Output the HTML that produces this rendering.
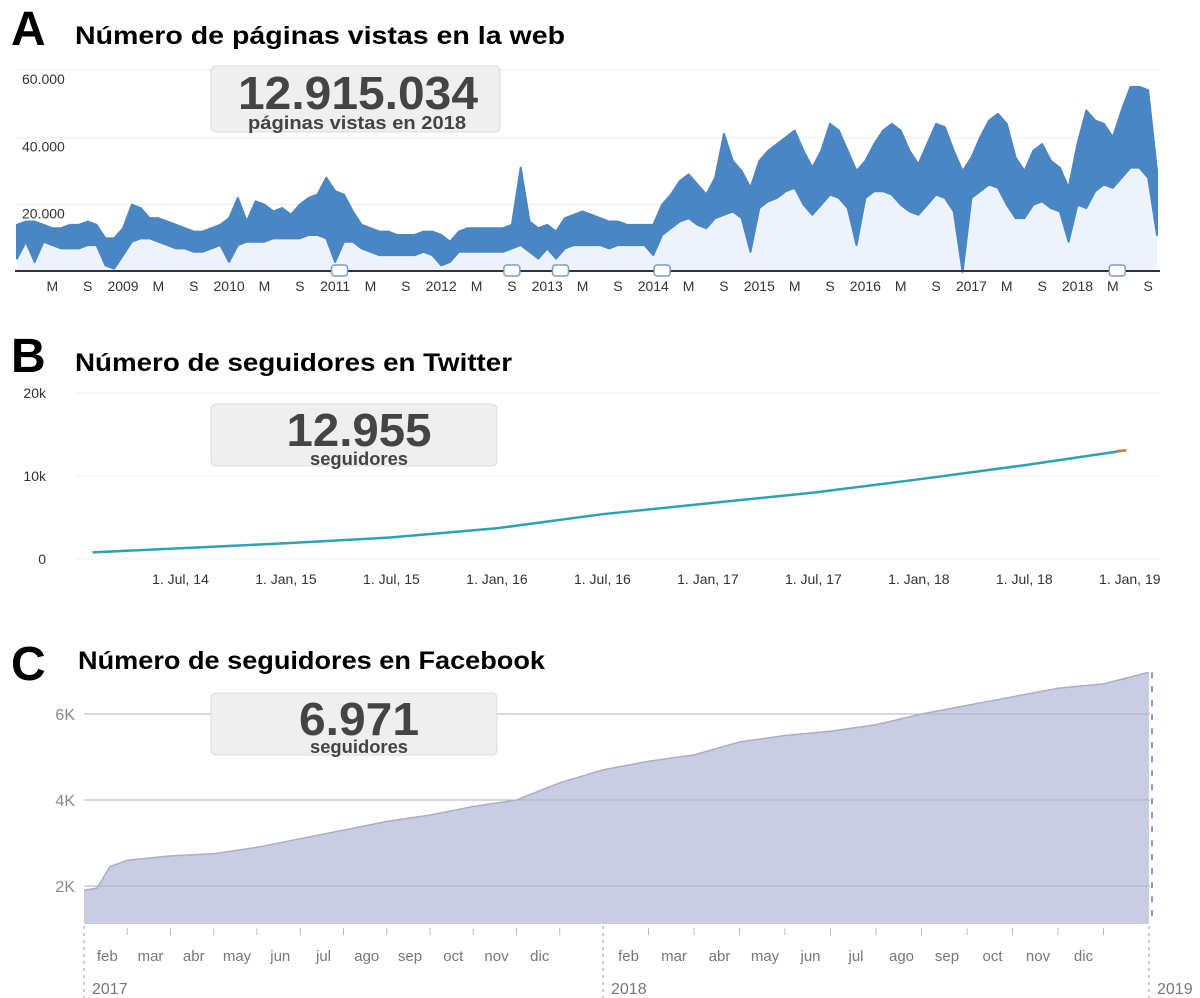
<!DOCTYPE html>
<html><head><meta charset="utf-8"><style>
html,body{margin:0;padding:0;background:#fff;}
svg{display:block;font-family:"Liberation Sans",Arial,sans-serif;}
.t{font-weight:bold;fill:#000;}
.ax{fill:#333;font-size:14px;}
.box{fill:#efefef;stroke:#dcdcdc;stroke-width:1;}
.big{font-weight:bold;fill:#444;text-anchor:middle;}
.sub{font-weight:bold;fill:#444;text-anchor:middle;}
</style></head><body>
<svg id="s" width="1200" height="998" viewBox="0 0 1200 998">
<g>
<text x="11" y="45" class="t" font-size="48">A</text>
<text x="75" y="44" class="t" font-size="25" textLength="490" lengthAdjust="spacingAndGlyphs">Número de páginas vistas en la web</text>
<g id="gA"></g>
<rect x="211" y="66" width="289" height="66" rx="5" class="box"/>
<text x="358" y="109" class="big" font-size="46" textLength="240" lengthAdjust="spacingAndGlyphs">12.915.034</text>
<text x="357" y="129" class="sub" font-size="18" textLength="218" lengthAdjust="spacingAndGlyphs">páginas vistas en 2018</text>
</g>
<g>
<text x="11" y="372" class="t" font-size="48">B</text>
<text x="75" y="371" class="t" font-size="25" textLength="437" lengthAdjust="spacingAndGlyphs">Número de seguidores en Twitter</text>
<g id="gB"></g>
<rect x="211" y="404" width="286" height="62" rx="5" class="box"/>
<text x="359" y="446" class="big" font-size="46" textLength="145" lengthAdjust="spacingAndGlyphs">12.955</text>
<text x="359" y="465" class="sub" font-size="18" textLength="98" lengthAdjust="spacingAndGlyphs">seguidores</text>
</g>
<g>
<text x="11" y="680" class="t" font-size="48">C</text>
<text x="78" y="669" class="t" font-size="25" textLength="467" lengthAdjust="spacingAndGlyphs">Número de seguidores en Facebook</text>
<g id="gC"></g>
<rect x="211" y="693" width="286" height="62" rx="5" class="box"/>
<text x="359" y="735" class="big" font-size="46" textLength="120" lengthAdjust="spacingAndGlyphs">6.971</text>
<text x="359" y="753" class="sub" font-size="18" textLength="98" lengthAdjust="spacingAndGlyphs">seguidores</text>
</g>
</svg>
<script>
// ---------- Panel A data (thousands, monthly Jan 2008 - Oct 2018)
const aHi = [14,15,15,14,13,13,14,14,15,14,10,10, 13,20,19,16,16,15,14,13,12,12,13,14, 16,22,15,21,20,18,19,17,20,22,23,28,
 24,23,18,14,13,12,12,11,11,11,12,12, 11,9,12,13,13,13,13,13,14,31,15,13, 14,12,16,17,18,17,16,15,15,14,14,14,
 14,20,23,27,29,26,23,28,41,33,30,25, 33,36,38,40,42,36,31,36,44,42,36,30, 33,38,42,44,42,36,32,38,44,43,36,30,
 34,40,45,47,44,34,30,36,38,33,31,25, 38,48,45,44,40,48,55,55,54,30];
const aLo = [4,9,3,9,8,7,7,7,8,8,2,1, 5,9,10,10,9,8,7,7,6,6,7,8, 3,8,9,9,9,10,10,10,10,11,11,10,
 3,9,9,7,6,5,5,5,5,5,6,5, 2,3,6,6,6,6,6,6,7,8,6,4, 7,4,7,8,8,8,8,7,8,8,8,8,
 5,11,13,15,16,14,13,16,17,18,16,6, 19,21,22,24,25,20,17,20,23,22,19,8, 22,24,24,23,20,18,17,20,23,22,18,0,
 22,24,26,25,20,16,16,20,21,19,18,9, 20,19,24,26,25,28,31,31,28,11];
const aYTicks = [20000,40000,60000];
const aYLabels = ["20.000","40.000","60.000"];
const aXLabels = ["M","S","2009","M","S","2010","M","S","2011","M","S","2012","M","S","2013","M","S","2014","M","S","2015","M","S","2016","M","S","2017","M","S","2018","M","S"];
const aFlags = [36.5,56,61.5,73,124.5];
// ---------- Panel B data
const bMonths = [1,6,12,18,24,30,36,42,48,54,59.8];
const bValues = [800,1300,1900,2600,3700,5400,6700,8000,9600,11300,13100];
const bXLabels = ["1. Jul, 14","1. Jan, 15","1. Jul, 15","1. Jan, 16","1. Jul, 16","1. Jan, 17","1. Jul, 17","1. Jan, 18","1. Jul, 18","1. Jan, 19"];
const bYTicks = [0,10000,20000];
const bYLabels = ["0","10k","20k"];
// ---------- Panel C data
const cMonths = [0,0.3,0.6,1,2,3,4,5,6,7,8,9,10,11,12,13,14,15,16,17,18,19,20,21,22,23,24];
const cValues = [1.9,1.95,2.45,2.6,2.7,2.75,2.9,3.1,3.3,3.5,3.65,3.85,4.0,4.4,4.7,4.9,5.05,5.35,5.5,5.6,5.75,6.0,6.2,6.4,6.6,6.7,6.97];
const cYTicks = [2,4,6];
const cYLabels = ["2K","4K","6K"];
const cMonthLabels = ["feb","mar","abr","may","jun","jul","ago","sep","oct","nov","dic"];
const cYearLabels = ["2017","2018","2019"];

const NS="http://www.w3.org/2000/svg";
function mk(parent,tag,attrs,txt){const e=document.createElementNS(NS,tag);for(const k in attrs)e.setAttribute(k,attrs[k]);if(txt!==undefined)e.textContent=txt;parent.appendChild(e);return e;}

// Panel A
(function(){
const g=document.getElementById('gA');
const xA=m=>17+m*(1157-17)/(aHi.length-1);
const yA=v=>272-v*(272-70)/60000;
for(let i=0;i<aYTicks.length;i++){
 const l=mk(g,'line',{x1:15,x2:1160,y1:yA(aYTicks[i]),y2:yA(aYTicks[i]),stroke:'#eeeeee'});
 
 
 const t=mk(g,'text',{x:22,y:yA(aYTicks[i])+14,class:'ax'},aYLabels[i]);
 
 
}
let lower=aLo.map((v,i)=>xA(i)+','+yA(v*1000));
const fill=mk(g,'polygon',{points:xA(0)+','+yA(0)+' '+lower.join(' ')+' '+xA(aLo.length-1)+','+yA(0),fill:'#eef3fb'});


let pts=[];
aHi.forEach((v,i)=>pts.push(xA(i)+','+yA(v*1000)));
for(let i=aLo.length-1;i>=0;i--)pts.push(xA(i)+','+yA(aLo[i]*1000));
const band=mk(g,'polygon',{points:pts.join(' '),fill:'#4a86c4',stroke:'#4a86c4','stroke-width':2,'stroke-linejoin':'round'});


const ax=mk(g,'line',{x1:15,x2:1160,y1:271,y2:271,stroke:'#333','stroke-width':2});


aXLabels.forEach((s,i)=>{
 const t=mk(g,'text',{x:xA(4+4*i),y:291,class:'ax','text-anchor':'middle'},s);
 
 
});
aFlags.forEach(m=>{
 const r=mk(g,'rect',{x:xA(m)-8,y:265,width:16,height:11,rx:3,fill:'#fff',stroke:'#7a9cc8','stroke-width':1.5});
 
 
});
})();

// Panel B
(function(){
const g=document.getElementById('gB');
const xB=m=>75+m*17.58;
const yB=v=>559-v*(559-476)/10000;
for(let i=0;i<bYTicks.length;i++){
 const l=mk(g,'line',{x1:75,x2:1160,y1:yB(bYTicks[i]),y2:yB(bYTicks[i]),stroke:'#f2f2f2'});
 
 
 const t=mk(g,'text',{x:46,y:yB(bYTicks[i])+5,class:'ax','text-anchor':'end',fill:'#555'},bYLabels[i]);
 
 
}
bXLabels.forEach((s,i)=>{
 const t=mk(g,'text',{x:xB(6+6*i),y:584,class:'ax','text-anchor':'middle','font-size':13,fill:'#555'},s);
 
 
});
const p=mk(g,'polyline',{points:bMonths.map((m,i)=>xB(m)+','+yB(bValues[i])).join(' '),fill:'none',stroke:'#2ba3b4','stroke-width':2.5});


const n=bMonths.length-1;
const o=mk(g,'line',{x1:xB(bMonths[n])-10,y1:yB(bValues[n])+1,x2:xB(bMonths[n]),y2:yB(bValues[n]),stroke:'#e8752a','stroke-width':2.5});


})();

// Panel C
(function(){
const g=document.getElementById('gC');
const xC=m=>m<=12?84+m*(603-84)/12:603+(m-12)*(1149-603)/12;
const yC=v=>972-v*43;
for(let i=0;i<cYTicks.length;i++){
 const l=mk(g,'line',{x1:84,x2:1150,y1:yC(cYTicks[i]),y2:yC(cYTicks[i]),stroke:'#dddddd'});
 
 
 const t=mk(g,'text',{x:75,y:yC(cYTicks[i])+6,'text-anchor':'end','font-size':16,fill:'#888'},cYLabels[i]);
 
 
}
const base=924;
const pts=cMonths.map((m,i)=>xC(m)+','+yC(cValues[i]));
const a=mk(g,'polygon',{points:xC(0)+','+base+' '+pts.join(' ')+' '+xC(24)+','+base,fill:'#c6cadf','fill-opacity':0.95});


const l=mk(g,'polyline',{points:pts.join(' '),fill:'none',stroke:'#a9adcb','stroke-width':1.5});


for(let i=0;i<cYTicks.length;i++){
 const gl=mk(g,'line',{x1:84,x2:1150,y1:yC(cYTicks[i]),y2:yC(cYTicks[i]),stroke:'#aeb2cc','stroke-width':1});
 
 
}
const h=mk(g,'line',{x1:xC(24)+3,y1:yC(cValues[cValues.length-1]),x2:xC(24)+3,y2:base,stroke:'#9a8fd0','stroke-width':2,'stroke-dasharray':'6 8'});


for(let m=1;m<24;m++){if(m===12)continue;
 const t=mk(g,'line',{x1:xC(m),x2:xC(m),y1:928,y2:935,stroke:'#bbb'});
 
 
 const lab=mk(g,'text',{x:xC(m)-20,y:961,'text-anchor':'middle','font-size':15,fill:'#777'},cMonthLabels[(m%12)-1]);
 
 
}
cYearLabels.forEach((s,i)=>{
 const x=xC(i*12);
 const d=mk(g,'line',{x1:x,x2:x,y1:926,y2:998,stroke:'#999','stroke-dasharray':'3 4'});
 
 
 const t=mk(g,'text',{x:x+8,y:994,'font-size':16,fill:'#777'},s);
 
 
});
})();
</script>
</body></html>
